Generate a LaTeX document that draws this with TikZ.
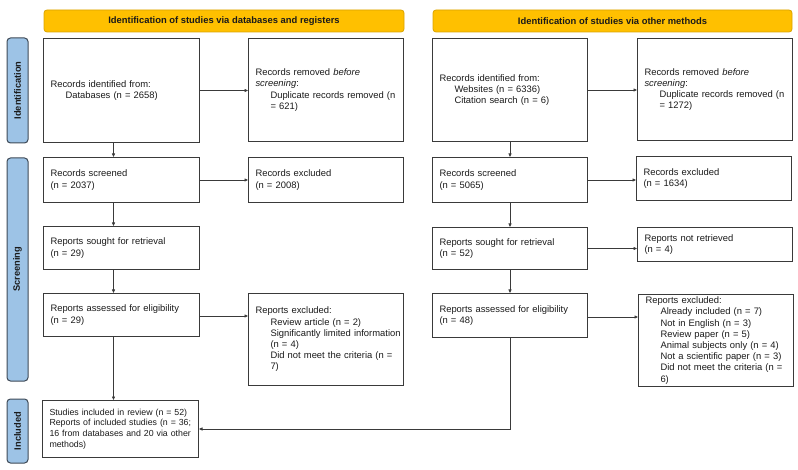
\documentclass[tikz,border=0pt]{standalone}
\usepackage{fontspec}
\setmainfont{Liberation Sans}
\usetikzlibrary{arrows.meta}
\definecolor{hdr}{HTML}{FFC000}
\definecolor{hdrb}{HTML}{D9A300}
\definecolor{side}{HTML}{9DC3E6}
\definecolor{sideb}{HTML}{3F4A57}
\definecolor{ln}{HTML}{3A3A3A}
\definecolor{tx}{HTML}{1A1A1A}
\newcommand\li[1]{\mbox{\hspace*{15pt}#1}}
\newcommand\lo[1]{\mbox{#1}}
\begin{document}
\begin{tikzpicture}[x=1pt,y=-1pt,
  hdrbox/.style={draw=hdrb, fill=hdr, line width=0.8pt, rounded corners=3pt,
    minimum height=22pt, inner sep=0pt, font=\fontsize{9.4}{11}\selectfont\bfseries, text=tx},
  sidebox/.style={draw=sideb, fill=side, line width=1pt, rounded corners=3.5pt,
    minimum height=21pt, inner sep=0pt, rotate=90, font=\fontsize{9.3}{11}\selectfont\bfseries, text=tx},
  box/.style={draw=ln, line width=1pt, anchor=north west, inner xsep=7pt, inner ysep=1pt,
    align=left, text=tx, font=\fontsize{9.4}{11.2}\selectfont},
  wa/.style={minimum width=156pt, text width=142pt},
  wb/.style={minimum width=155pt, text width=141pt},
  arr/.style={draw=ln, line width=0.7pt, -{Triangle[length=3.5pt,width=3pt]}},
  ln/.style={draw=ln, line width=0.7pt}
]
\useasboundingbox (0,0) rectangle (798,470);
% headers
\node[hdrbox, minimum width=360pt] (h1) at (224,21) {Identification of studies via databases and registers};
\node[hdrbox, minimum width=359pt] (h2) at (612.5,21) {Identification of studies via other methods};
% side labels
\node[sidebox, minimum width=105pt] (s1) at (17.5,90.5) {Identification};
\node[sidebox, minimum width=223pt] (s2) at (17.5,269.5) {Screening};
\node[sidebox, minimum width=64pt] (s3) at (17.5,431) {Included};
% left column
\node[box, wa, minimum height=104pt] (id1) at (43,38) {Records identified from:\\ \li{Databases (n = 2658)}};
\node[box, wb, minimum height=103pt] (rem1) at (248,38) {\lo{Records removed \textit{before}}\\ \textit{screening}:\\ \li{Duplicate records removed (n}\\ \li{= 621)}};
\node[box, wa, minimum height=45pt] (scr1) at (43,157) {Records screened\\ (n = 2037)};
\node[box, wb, minimum height=45pt] (exc1) at (248,157) {Records excluded\\ (n = 2008)};
\node[box, wa, minimum height=43pt] (sou1) at (43,226) {Reports sought for retrieval\\ (n = 29)};
\node[box, wa, minimum height=43pt] (ass1) at (43,293) {\lo{Reports assessed for eligibility}\\ (n = 29)};
\node[box, wb, minimum height=92pt] (exc2) at (248,293) {Reports excluded:\\ \li{Review article (n = 2)}\\ \li{Significantly limited information}\\ \li{(n = 4)}\\ \li{Did not meet the criteria (n =}\\ \li{7)}};
\node[box, wa, minimum height=57pt, font=\fontsize{8.8}{10.7}\selectfont] (inc) at (42,400) {\lo{Studies included in review (n = 52)}\\ \lo{Reports of included studies (n = 36;}\\ \lo{16 from databases and 20 via other}\\ methods)};
% right column
\node[box, wb, minimum height=103pt] (id2) at (432,38) {Records identified from:\\ \li{Websites (n = 6336)}\\ \li{Citation search (n = 6)}};
\node[box, wb, minimum height=102pt] (rem2) at (637,38) {\lo{Records removed \textit{before}}\\ \textit{screening}:\\ \li{Duplicate records removed (n}\\ \li{= 1272)}};
\node[box, wb, minimum height=45pt] (scr2) at (432,157) {Records screened\\ (n = 5065)};
\node[box, wb, minimum height=44pt] (exc3) at (636,156) {Records excluded\\ (n = 1634)};
\node[box, wb, minimum height=42pt] (sou2) at (432,227) {Reports sought for retrieval\\ (n = 52)};
\node[box, wb, minimum height=34pt] (nr2) at (637,227) {Reports not retrieved\\ (n = 4)};
\node[box, wb, minimum height=44pt] (ass2) at (432,293) {\lo{Reports assessed for eligibility}\\ (n = 48)};
\node[box, wb, minimum height=92pt] (exc4) at (638,294) {Reports excluded:\\ \li{Already included (n = 7)}\\ \li{Not in English (n = 3)}\\ \li{Review paper (n = 5)}\\ \li{Animal subjects only (n = 4)}\\ \li{Not a scientific paper (n = 3)}\\ \li{Did not meet the criteria (n =}\\ \li{6)}};
% connectors left
\coordinate (lx) at (113.5,0);
\draw[arr] (id1.south -| lx) -- (scr1.north -| lx);
\draw[arr] (scr1.south -| lx) -- (sou1.north -| lx);
\draw[arr] (sou1.south -| lx) -- (ass1.north -| lx);
\draw[arr] (ass1.south -| lx) -- (inc.north -| lx);
\draw[arr] (id1.east) -- (id1.east -| rem1.west);
\draw[arr] (scr1.east) -- (scr1.east -| exc1.west);
\coordinate (a1) at (0,316);
\draw[arr] (ass1.east |- a1) -- (exc2.west |- a1);
% connectors right
\draw[arr] (id2.south) -- (scr2.north);
\draw[arr] (scr2.south) -- (sou2.north);
\draw[arr] (sou2.south) -- (ass2.north);
\draw[arr] (id2.east) -- (id2.east -| rem2.west);
\draw[arr] (scr2.east) -- (scr2.east -| exc3.west);
\draw[arr] (sou2.east) -- (sou2.east -| nr2.west);
\coordinate (a2) at (0,317);
\draw[arr] (ass2.east |- a2) -- (exc4.west |- a2);
\coordinate (b2) at (0,429);
\draw[arr] (ass2.south) |- (inc.east |- b2);
\end{tikzpicture}
\end{document}
